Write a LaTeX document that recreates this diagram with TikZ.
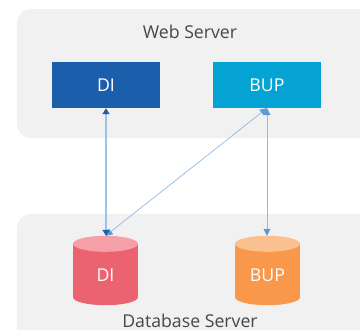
\documentclass[tikz,border=0pt]{standalone}
\usepackage{fontspec}
\setmainfont{Open Sans}
\usetikzlibrary{arrows.meta}
\definecolor{panelgray}{HTML}{F1F1F2}
\definecolor{diblue}{HTML}{1B5EAB}
\definecolor{bupblue}{HTML}{04A3D3}
\definecolor{linelight}{HTML}{9CC2E5}
\definecolor{headmid}{HTML}{5B9BD5}
\definecolor{redbody}{HTML}{EB6370}
\definecolor{redtop}{HTML}{F5A0A8}
\definecolor{orangebody}{HTML}{F9974A}
\definecolor{orangetop}{HTML}{FBC08F}
\tikzset{
  panel/.style={fill=panelgray,draw=none,rounded corners=14pt},
  panellabel/.style={text=black!72,font=\fontsize{17.7}{20}\selectfont,inner sep=0pt},
  appbox/.style={draw=none,minimum width=108pt,minimum height=46pt,inner sep=0pt,text=white,font=\fontsize{17.7}{20}\selectfont},
  dbframe/.style={draw=none,minimum width=65pt,minimum height=69pt,inner sep=0pt},
  dblabel/.style={inner sep=0pt,text=white,font=\fontsize{17.7}{20}\selectfont},
  thick link/.style={draw=linelight,line width=1.3pt,{Triangle[length=6pt,width=7pt,color=diblue]}-{Triangle[length=6pt,width=7pt,color=diblue]}},
  thin link/.style={draw=linelight!80!headmid,line width=0.7pt,{Triangle[length=7pt,width=7pt,color=headmid]}-{Triangle[length=7pt,width=7pt,color=headmid]}},
}
\newcommand{\dbdrum}[3]{%
  \fill[#2] ([shift={(0,8)}]#1.north west) rectangle ([shift={(0,-8)}]#1.south east);
  \fill[#2] ([shift={(0,-8)}]#1.south) ellipse [x radius=32.5pt,y radius=8pt];
  \fill[#3] ([shift={(0,8)}]#1.north) ellipse [x radius=32.5pt,y radius=8pt];
}
\begin{document}
\begin{tikzpicture}[x=1pt,y=-1pt]
\useasboundingbox (0,0) rectangle (360,330);
\path[panel] (17,9) rectangle (375,138);
\path[panel] (17,214) rectangle (375,360);
\node[panellabel] (weblabel) at (190,31.5) {Web Server};
\node[panellabel] (dbcaption) at (190,320.5) {Database Server};
\node[appbox,fill=diblue] (webdi) at (106,85) {DI};
\node[appbox,fill=bupblue] (webbup) at (267,85) {BUP};
\node[dbframe] (dbdi) at (105.5,270.5) {};
\node[dbframe] (dbbup) at (267.5,270.5) {};
\dbdrum{dbdi}{redbody}{redtop}
\dbdrum{dbbup}{orangebody}{orangetop}
\node[dblabel] (dbdilabel) at (105.5,275) {DI};
\node[dblabel] (dbbuplabel) at (267.5,275) {BUP};
\draw[thin link] (webbup.south) -- (webbup.south |- dbbup.north);
\draw[thin link] (webbup.south) -- (dbdi.north);
\draw[thick link] (webdi.south) -- (webdi.south |- dbdi.north);
\end{tikzpicture}
\end{document}
